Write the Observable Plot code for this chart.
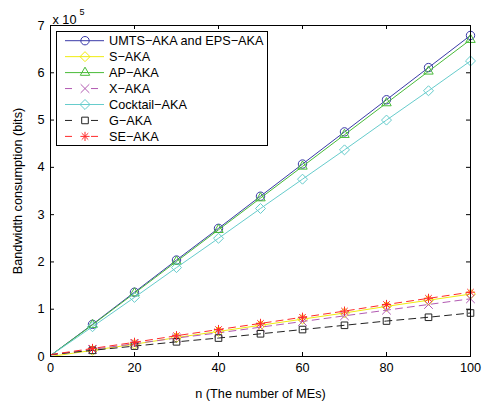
<!DOCTYPE html>
<html>
<head>
<meta charset="utf-8">
<script src="https://cdn.jsdelivr.net/npm/d3@7"></script>
<script src="https://cdn.jsdelivr.net/npm/@observablehq/plot@0.6"></script>
<style>
  body { margin: 0; background: #fff; }
  #chart { width: 483px; height: 403px; }
</style>
</head>
<body>
<div id="chart"></div>
<script>
// Number of MEs
const n = [0, 10, 20, 30, 40, 50, 60, 70, 80, 90, 100];

// Bandwidth consumption, in units of 10^5 bits
const umtsEps  = [0.02, 0.68, 1.36, 2.04, 2.71, 3.39, 4.07, 4.75, 5.43, 6.11, 6.79];
const sAka     = [0.00, 0.13, 0.26, 0.40, 0.53, 0.66, 0.79, 0.92, 1.06, 1.19, 1.32];
const apAka    = [0.02, 0.67, 1.34, 2.01, 2.68, 3.35, 4.02, 4.69, 5.36, 6.03, 6.70];
const xAka     = [0.03, 0.15, 0.27, 0.39, 0.50, 0.62, 0.74, 0.86, 0.98, 1.10, 1.22];
const cocktail = [0.02, 0.63, 1.25, 1.88, 2.50, 3.13, 3.75, 4.37, 5.00, 5.62, 6.25];
const gAka     = [0.04, 0.13, 0.22, 0.31, 0.39, 0.48, 0.57, 0.66, 0.75, 0.83, 0.92];
const seAka    = [0.04, 0.17, 0.30, 0.44, 0.57, 0.70, 0.83, 0.96, 1.10, 1.23, 1.36];

const xTicks = [0, 20, 40, 60, 80, 100];
const yTicks = [0, 1, 2, 3, 4, 5, 6, 7];

// MATLAB-style eight-spoke asterisk marker
const star8 = {
  draw(ctx, size) {
    const r = Math.sqrt(size / Math.PI) * 1.15;
    const d = r * Math.SQRT1_2;
    ctx.moveTo(-r, 0); ctx.lineTo(r, 0);
    ctx.moveTo(0, -r); ctx.lineTo(0, r);
    ctx.moveTo(-d, -d); ctx.lineTo(d, d);
    ctx.moveTo(-d, d); ctx.lineTo(d, -d);
  }
};

const series = [
  {name: "UMTS\u2212AKA and EPS\u2212AKA", values: umtsEps,  color: "#3a3aa8", symbol: d3.symbolCircle,   r: 4.2, dash: null},
  {name: "S\u2212AKA",                    values: sAka,     color: "#f0ec10", symbol: d3.symbolDiamond2, r: 4.5, dash: null},
  {name: "AP\u2212AKA",                   values: apAka,    color: "#48bb38", symbol: d3.symbolTriangle2,r: 4.5, dash: null},
  {name: "X\u2212AKA",                    values: xAka,     color: "#b25ab2", symbol: d3.symbolTimes,    r: 4.0, dash: "7,5"},
  {name: "Cocktail\u2212AKA",             values: cocktail, color: "#66cccc", symbol: d3.symbolDiamond2, r: 4.5, dash: null},
  {name: "G\u2212AKA",                    values: gAka,     color: "#222222", symbol: d3.symbolSquare2,  r: 4.2, dash: "7,5"},
  {name: "SE\u2212AKA",                   values: seAka,    color: "#ff2a2a", symbol: star8,             r: 4.0, dash: "7,5"}
];

const marks = [];
for (const s of series) {
  const rows = n.map((x, i) => ({n: x, v: s.values[i]}));
  marks.push(Plot.line(rows, {x: "n", y: "v", stroke: s.color, strokeWidth: 1, strokeDasharray: s.dash}));
  marks.push(Plot.dot(rows.filter(d => d.n > 0), {x: "n", y: "v", stroke: s.color, symbol: s.symbol, r: s.r, strokeWidth: 1}));
}

const frameH = 403 - 25 - 47;
const frameW = 483 - 50 - 13;

const chart = Plot.plot({
  width: 483,
  height: 403,
  marginLeft: 50,
  marginRight: 13,
  marginTop: 25,
  marginBottom: 47,
  style: {fontFamily: "'Liberation Sans', Arial, sans-serif", fontSize: "12.7px", background: "#fff", color: "#000"},
  x: {domain: [0, 100]},
  y: {domain: [0, 7]},
  marks: [
    ...marks,
    // inward ticks on all four sides
    Plot.gridX(xTicks, {stroke: "#000", strokeOpacity: 1, insetTop: frameH - 4}),
    Plot.gridX(xTicks, {stroke: "#000", strokeOpacity: 1, insetBottom: frameH - 4}),
    Plot.gridY(yTicks, {stroke: "#000", strokeOpacity: 1, insetRight: frameW - 4}),
    Plot.gridY(yTicks, {stroke: "#000", strokeOpacity: 1, insetLeft: frameW - 4}),
    Plot.axisX(xTicks, {anchor: "bottom", tickSize: 0, tickPadding: 6, label: "n (The number of MEs)", labelAnchor: "center", labelArrow: "none", labelOffset: 41}),
    Plot.axisY(yTicks, {anchor: "left", tickSize: 0, tickPadding: 6, label: "Bandwidth consumption (bits)", labelAnchor: "center", labelArrow: "none", labelOffset: 38}),
    Plot.frame({stroke: "#000", strokeWidth: 1}),
    Plot.text(["x 10"], {frameAnchor: "top-left", dx: 2, dy: -11, textAnchor: "start", fontSize: 12.7}),
    Plot.text(["5"], {frameAnchor: "top-left", dx: 29, dy: -17, textAnchor: "start", fontSize: 9})
  ]
});

// Legend box in the upper-left corner of the axes
const svg = d3.select(chart);
const lg = svg.append("g")
  .attr("font-family", "'Liberation Sans', Arial, sans-serif")
  .attr("font-size", 12.7)
  .attr("text-anchor", "start");
lg.append("rect").attr("x", 56.5).attr("y", 31.5).attr("width", 211).attr("height", 114)
  .attr("fill", "#fff").attr("stroke", "#000").attr("stroke-width", 1);
series.forEach((s, i) => {
  const cy = 40.7 + i * 15.95;
  lg.append("line").attr("x1", 65).attr("x2", 104).attr("y1", cy).attr("y2", cy)
    .attr("stroke", s.color).attr("stroke-width", 1).attr("stroke-dasharray", s.dash ? "7,6,0,13,7" : null);
  lg.append("path").attr("transform", `translate(85,${cy})`)
    .attr("d", d3.symbol(s.symbol, Math.PI * s.r * s.r)())
    .attr("fill", "none").attr("stroke", s.color).attr("stroke-width", 1);
  lg.append("text").attr("x", 109).attr("y", cy).attr("dy", "0.35em")
    .attr("text-anchor", "start").text(s.name);
});

document.getElementById("chart").appendChild(chart);
</script>
</body>
</html>
